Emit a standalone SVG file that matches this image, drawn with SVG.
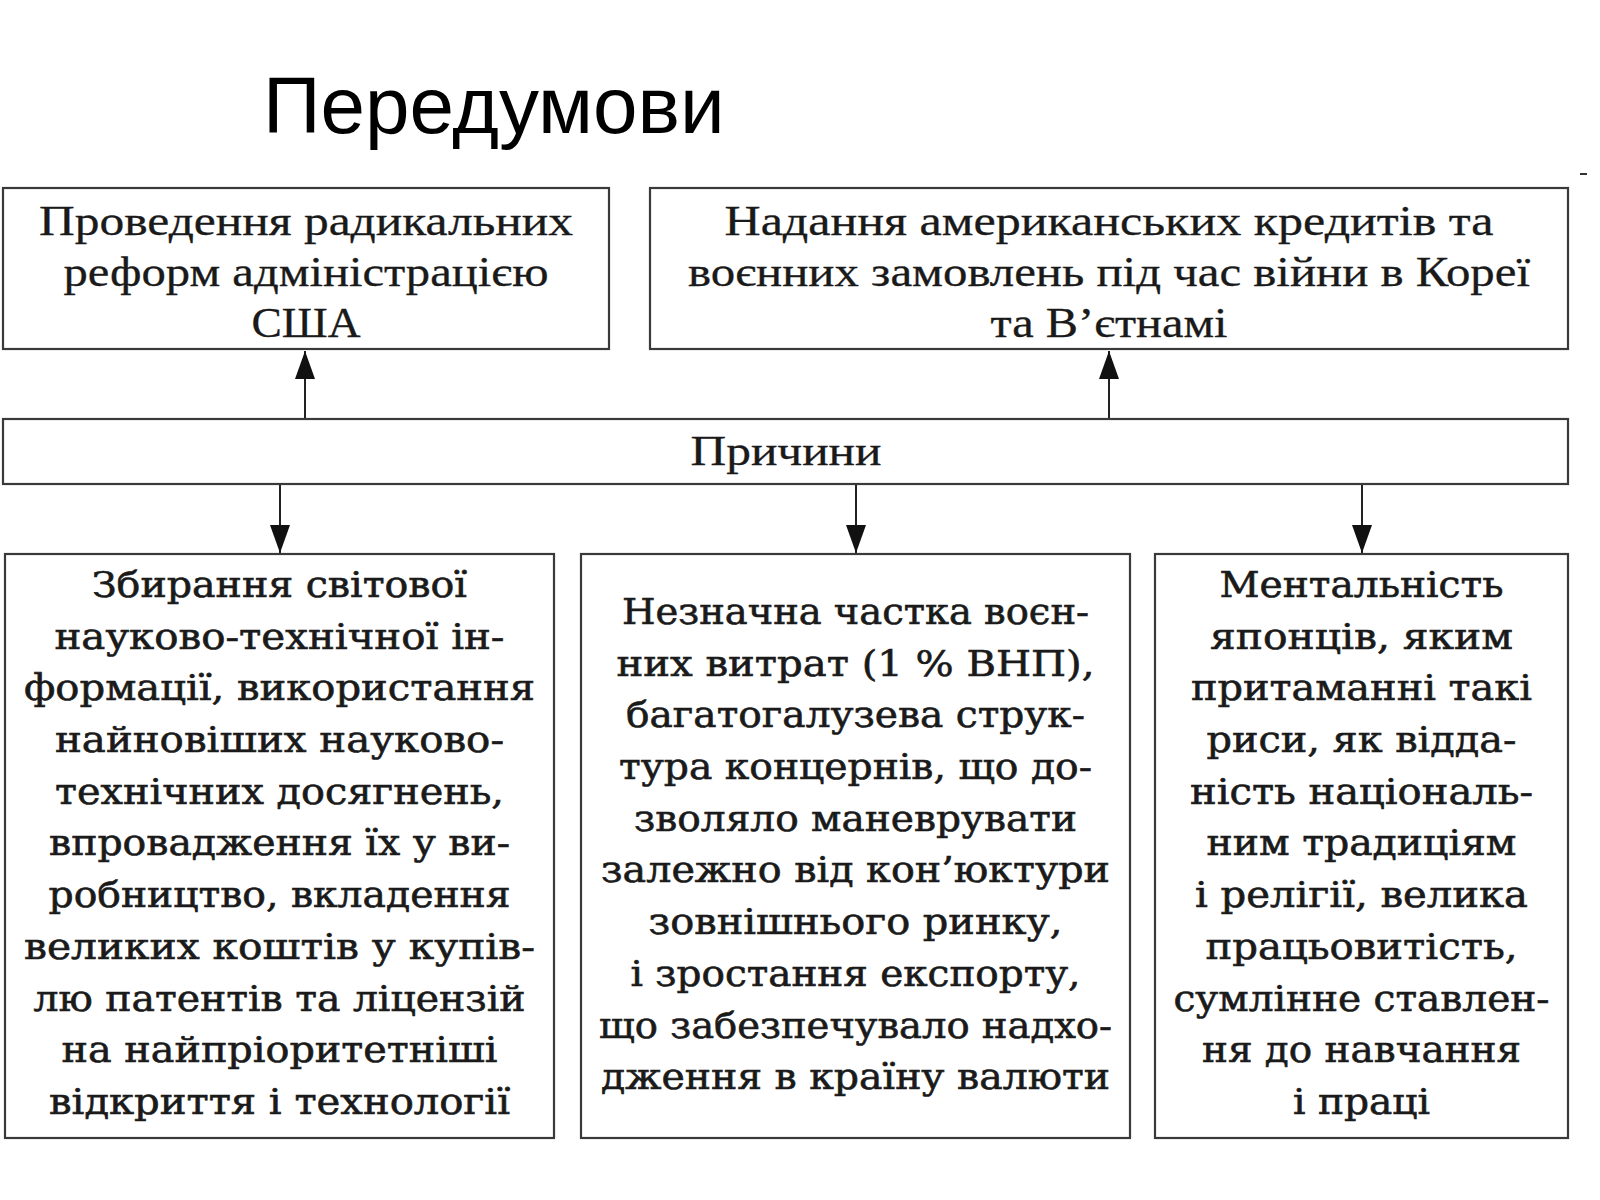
<svg xmlns="http://www.w3.org/2000/svg" width="1600" height="1200" viewBox="0 0 1600 1200">
<defs>
<style>
.box{fill:#fff;stroke:#3a3a3a;stroke-width:2.2}
.conn{stroke:#222;stroke-width:2;fill:none}
.title{font-family:"Liberation Sans",Arial,sans-serif;font-size:80px;fill:#000}
.top{font-family:"Liberation Serif","Times New Roman",serif;font-size:42px;fill:#1a1a1a;stroke:#1a1a1a;stroke-width:0.3;text-anchor:middle}
.low{font-family:"DejaVu Serif","Liberation Serif",serif;font-size:35px;fill:#1a1a1a;stroke:#1a1a1a;stroke-width:0.6;text-anchor:middle}
</style>
<marker id="arrow" viewBox="0 0 28 20" refX="28" refY="10" markerWidth="28" markerHeight="20" markerUnits="userSpaceOnUse" orient="auto">
<path d="M0,0 L28,10 L0,20 z" fill="#111"/>
</marker>
</defs>
<rect width="1600" height="1200" fill="#fff"/>
<text class="title" x="263" y="133">Передумови</text>
<line x1="1580" y1="174" x2="1587" y2="174" stroke="#333" stroke-width="2"/>

<g id="connectors">
<line class="conn" x1="305" y1="419" x2="305" y2="351" marker-end="url(#arrow)"/>
<line class="conn" x1="1109" y1="419" x2="1109" y2="351" marker-end="url(#arrow)"/>
<line class="conn" x1="280" y1="484" x2="280" y2="553" marker-end="url(#arrow)"/>
<line class="conn" x1="856" y1="484" x2="856" y2="553" marker-end="url(#arrow)"/>
<line class="conn" x1="1362" y1="484" x2="1362" y2="553" marker-end="url(#arrow)"/>
</g>

<g id="node-reforms">
<rect class="box" x="3" y="188" width="606" height="161"/>
<text class="top" x="306" y="235" textLength="534" lengthAdjust="spacingAndGlyphs">Проведення радикальних</text>
<text class="top" x="306" y="286" textLength="485" lengthAdjust="spacingAndGlyphs">реформ адміністрацією</text>
<text class="top" x="306" y="337" textLength="109" lengthAdjust="spacingAndGlyphs">США</text>
</g>

<g id="node-credits">
<rect class="box" x="650" y="188" width="918" height="161"/>
<text class="top" x="1109" y="235" textLength="769" lengthAdjust="spacingAndGlyphs">Надання американських кредитів та</text>
<text class="top" x="1109" y="286" textLength="842" lengthAdjust="spacingAndGlyphs">воєнних замовлень під час війни в Кореї</text>
<text class="top" x="1109" y="337" textLength="237" lengthAdjust="spacingAndGlyphs">та В’єтнамі</text>
</g>

<g id="node-causes">
<rect class="box" x="3" y="419" width="1565" height="65"/>
<text class="top" x="786" y="465" textLength="191" lengthAdjust="spacingAndGlyphs">Причини</text>
</g>

<g id="node-science">
<rect class="box" x="5" y="554" width="549" height="584"/>
<text class="low" x="279.5" y="597" textLength="375" lengthAdjust="spacingAndGlyphs">Збирання світової</text>
<text class="low" x="279.5" y="649" textLength="450" lengthAdjust="spacingAndGlyphs">науково-технічної ін-</text>
<text class="low" x="279.5" y="700" textLength="511" lengthAdjust="spacingAndGlyphs">формації, використання</text>
<text class="low" x="279.5" y="752" textLength="449" lengthAdjust="spacingAndGlyphs">найновіших науково-</text>
<text class="low" x="279.5" y="804" textLength="449" lengthAdjust="spacingAndGlyphs">технічних досягнень,</text>
<text class="low" x="279.5" y="855" textLength="461" lengthAdjust="spacingAndGlyphs">впровадження їх у ви-</text>
<text class="low" x="279.5" y="907" textLength="462" lengthAdjust="spacingAndGlyphs">робництво, вкладення</text>
<text class="low" x="279.5" y="959" textLength="511" lengthAdjust="spacingAndGlyphs">великих коштів у купів-</text>
<text class="low" x="279.5" y="1011" textLength="492" lengthAdjust="spacingAndGlyphs">лю патентів та ліцензій</text>
<text class="low" x="279.5" y="1062" textLength="436" lengthAdjust="spacingAndGlyphs">на найпріоритетніші</text>
<text class="low" x="279.5" y="1114" textLength="461" lengthAdjust="spacingAndGlyphs">відкриття і технології</text>
</g>

<g id="node-military">
<rect class="box" x="581" y="554" width="549" height="584"/>
<text class="low" x="855.5" y="624" textLength="467" lengthAdjust="spacingAndGlyphs">Незначна частка воєн-</text>
<text class="low" x="855.5" y="676" textLength="478" lengthAdjust="spacingAndGlyphs">них витрат (1 % ВНП),</text>
<text class="low" x="855.5" y="727" textLength="459" lengthAdjust="spacingAndGlyphs">багатогалузева струк-</text>
<text class="low" x="855.5" y="779" textLength="473" lengthAdjust="spacingAndGlyphs">тура концернів, що до-</text>
<text class="low" x="855.5" y="831" textLength="443" lengthAdjust="spacingAndGlyphs">зволяло маневрувати</text>
<text class="low" x="855.5" y="882" textLength="509" lengthAdjust="spacingAndGlyphs">залежно від кон’юктури</text>
<text class="low" x="855.5" y="934" textLength="414" lengthAdjust="spacingAndGlyphs">зовнішнього ринку,</text>
<text class="low" x="855.5" y="986" textLength="450" lengthAdjust="spacingAndGlyphs">і зростання експорту,</text>
<text class="low" x="855.5" y="1038" textLength="513" lengthAdjust="spacingAndGlyphs">що забезпечувало надхо-</text>
<text class="low" x="855.5" y="1089" textLength="509" lengthAdjust="spacingAndGlyphs">дження в країну валюти</text>
</g>

<g id="node-mentality">
<rect class="box" x="1155" y="554" width="413" height="584"/>
<text class="low" x="1361.5" y="597" textLength="284" lengthAdjust="spacingAndGlyphs">Ментальність</text>
<text class="low" x="1361.5" y="649" textLength="303" lengthAdjust="spacingAndGlyphs">японців, яким</text>
<text class="low" x="1361.5" y="700" textLength="341" lengthAdjust="spacingAndGlyphs">притаманні такі</text>
<text class="low" x="1361.5" y="752" textLength="310" lengthAdjust="spacingAndGlyphs">риси, як відда-</text>
<text class="low" x="1361.5" y="804" textLength="343" lengthAdjust="spacingAndGlyphs">ність національ-</text>
<text class="low" x="1361.5" y="855" textLength="310" lengthAdjust="spacingAndGlyphs">ним традиціям</text>
<text class="low" x="1361.5" y="907" textLength="333" lengthAdjust="spacingAndGlyphs">і релігії, велика</text>
<text class="low" x="1361.5" y="959" textLength="312" lengthAdjust="spacingAndGlyphs">працьовитість,</text>
<text class="low" x="1361.5" y="1011" textLength="376" lengthAdjust="spacingAndGlyphs">сумлінне ставлен-</text>
<text class="low" x="1361.5" y="1062" textLength="319" lengthAdjust="spacingAndGlyphs">ня до навчання</text>
<text class="low" x="1361.5" y="1114" textLength="137" lengthAdjust="spacingAndGlyphs">і праці</text>
</g>
</svg>
